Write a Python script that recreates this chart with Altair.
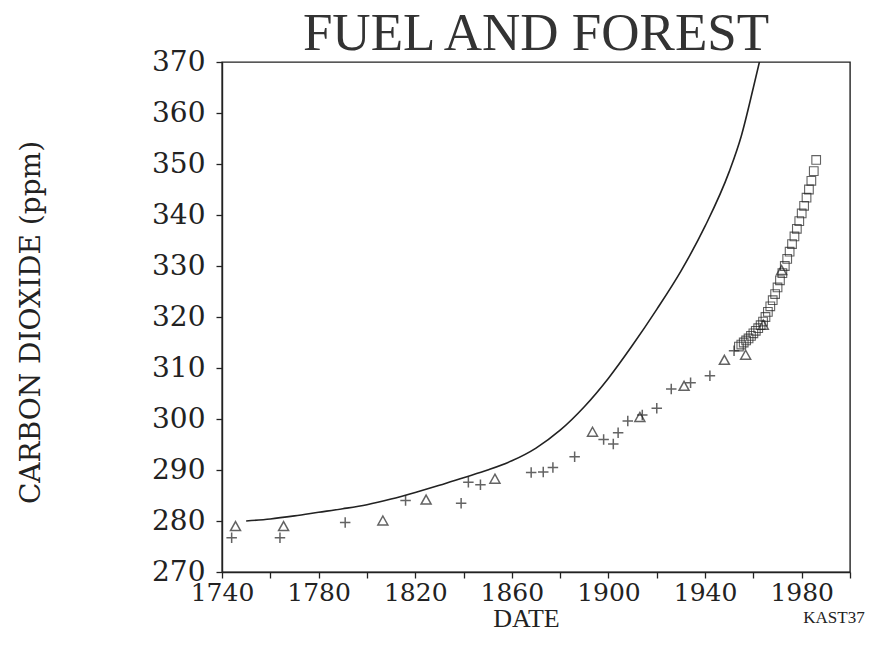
import altair as alt
import pandas as pd

# Fossil-fuel + forest model curve
fuel_year = [1750, 1760, 1770, 1780, 1790, 1800, 1810, 1820, 1830, 1840, 1850, 1860,
             1870, 1880, 1890, 1900, 1910, 1920, 1930, 1940, 1950, 1955, 1960, 1963]
fuel_ppm = [280.0, 280.4, 281.0, 281.7, 282.4, 283.2, 284.3, 285.6, 287.0, 288.5, 290.0, 291.8,
            294.3, 297.8, 302.4, 308.0, 314.5, 321.5, 329.0, 337.8, 348.5, 355.5, 365.0, 371.0]

# "+" observations
plus_year = [1744, 1764, 1791, 1816, 1839, 1842, 1847, 1868, 1873, 1877, 1886, 1898,
             1902, 1904, 1908, 1914, 1920, 1926, 1934, 1942, 1952]
plus_ppm = [276.7, 276.7, 279.7, 284.0, 283.5, 287.6, 287.1, 289.5, 289.6, 290.5, 292.6, 296.0,
            295.1, 297.3, 299.6, 300.8, 302.1, 305.9, 307.1, 308.5, 313.4]

# triangle observations
tri_year = [1745.6, 1765.5, 1806.6, 1824.5, 1853.0, 1893.4, 1913.0, 1931.3, 1948.0, 1956.8, 1964.1, 1971.7]
tri_ppm = [279.0, 279.0, 280.1, 284.2, 288.3, 297.5, 300.4, 306.5, 311.6, 312.6, 318.5, 329.2]

# square observations
sq_year = list(range(1954, 1987))
sq_ppm = [314.2, 314.6, 315.0, 315.4, 315.8, 316.3, 316.8, 317.3, 317.8, 318.4, 319.1, 320.0,
          321.0, 322.1, 323.3, 324.5, 325.8, 327.2, 328.6, 330.0, 331.4, 332.8, 334.3, 335.8,
          337.3, 338.8, 340.3, 341.8, 343.4, 345.0, 346.7, 348.6, 350.8]

x_ticks = list(range(1740, 2001, 20))
y_ticks = list(range(270, 371, 10))

INK = "#222222"
SERIF = "Liberation Serif"
WIDE = "DejaVu Serif"

fuel = pd.DataFrame({"year": fuel_year, "ppm": fuel_ppm})
plus = pd.DataFrame({"year": plus_year, "ppm": plus_ppm})
tri = pd.DataFrame({"year": tri_year, "ppm": tri_ppm})
sq = pd.DataFrame({"year": sq_year, "ppm": sq_ppm})

xs = alt.Scale(domain=[1740, 2000], nice=False, zero=False)
ys = alt.Scale(domain=[270, 370], nice=False, zero=False)

x_enc = alt.X("year:Q", scale=xs, axis=alt.Axis(
    values=x_ticks, labelExpr="datum.value % 40 == 20 ? '' + datum.value : ''",
    title="DATE", titleX=304, titleY=46, titleAlign="center", titleBaseline="middle",
    grid=False, tickSize=6, labelPadding=2, labelFlush=False, labelOverlap=False,
    labelFont=WIDE, labelFontSize=25, titleFont=SERIF, titleFontSize=26, titleFontWeight="normal"))
y_enc = alt.Y("ppm:Q", scale=ys, axis=alt.Axis(
    values=y_ticks, format="d", title="CARBON DIOXIDE (ppm)",
    titleX=-191, titleY=260, titleAngle=270, titleAlign="center", titleBaseline="middle",
    grid=False, tickSize=6, labelPadding=11, labelFlush=False, labelOverlap=False,
    labelFont=WIDE, labelFontSize=28, titleFont=WIDE, titleFontSize=28, titleFontWeight="normal"))

line = alt.Chart(fuel).mark_line(color=INK, strokeWidth=1.6, clip=True, interpolate="monotone").encode(x=x_enc, y=y_enc)

plus_pts = alt.Chart(plus).mark_point(
    shape="M-1,0L1,0M0,-1L0,1", size=110, filled=False, color=INK, strokeWidth=1.5
).encode(x=x_enc, y=y_enc)

tri_pts = alt.Chart(tri).mark_point(
    shape="M0,-0.9L1,0.9L-1,0.9Z", size=100, filled=False, color=INK, strokeWidth=1.5
).encode(x=x_enc, y=y_enc)

sq_pts = alt.Chart(sq).mark_point(
    shape="square", size=75, filled=False, color=INK, strokeWidth=1.1
).encode(x=x_enc, y=y_enc)

tag = alt.Chart(pd.DataFrame({"t": ["KAST37"]})).mark_text(
    font=SERIF, fontSize=17, color=INK, align="center", baseline="middle"
).encode(x=alt.value(612), y=alt.value(556), text="t:N")

chart = alt.layer(line, plus_pts, tri_pts, sq_pts, tag).properties(
    width=628, height=510,
    background="white",
    title=alt.TitleParams("FUEL AND FOREST", font=SERIF, fontSize=53, fontWeight="normal",
                          color="#333333", anchor="middle", offset=-13),
    autosize=alt.AutoSizeParams(type="none"),
    padding={"left": 222, "top": 62, "right": 20, "bottom": 76},
).configure_view(
    stroke=INK, strokeWidth=1.4
).configure_axis(
    domainColor=INK, domainWidth=1.4, tickColor=INK, tickWidth=1.3,
    labelColor=INK, titleColor=INK
)

chart.save("out.html", embed_options={"renderer": "svg", "actions": False})
